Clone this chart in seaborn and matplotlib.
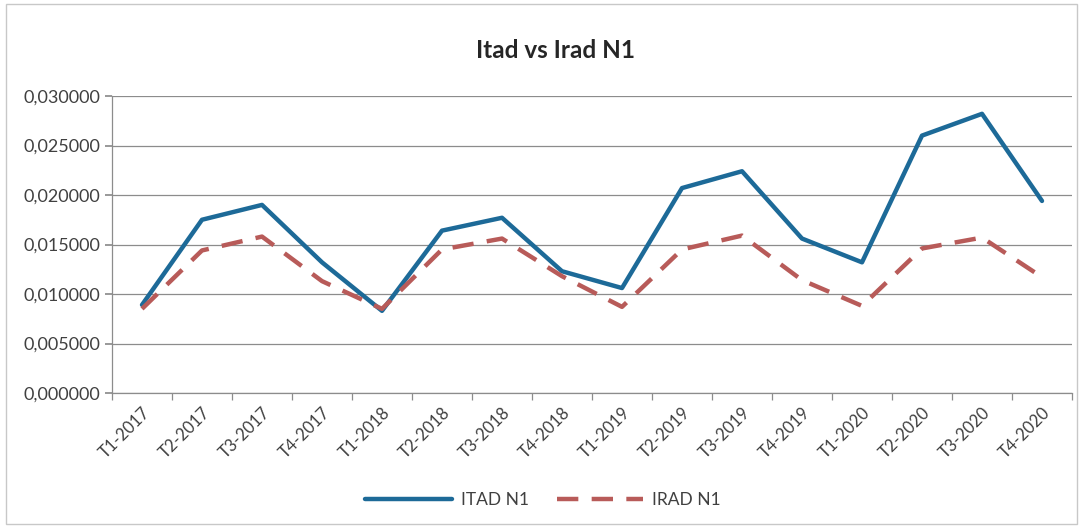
import matplotlib
matplotlib.use("Agg")
import matplotlib.pyplot as plt
import seaborn as sns
import pandas as pd
import numpy as np
from matplotlib.ticker import FuncFormatter, FixedLocator
from matplotlib.lines import Line2D

categories = ["T1-2017", "T2-2017", "T3-2017", "T4-2017",
              "T1-2018", "T2-2018", "T3-2018", "T4-2018",
              "T1-2019", "T2-2019", "T3-2019", "T4-2019",
              "T1-2020", "T2-2020", "T3-2020", "T4-2020"]
itad = [0.0089, 0.0175, 0.0190, 0.0132, 0.0083, 0.0164, 0.0177, 0.0123,
        0.0106, 0.0207, 0.0224, 0.0156, 0.0132, 0.0260, 0.0282, 0.0194]
irad = [0.0085, 0.0144, 0.0158, 0.0113, 0.0085, 0.0145, 0.0156, 0.0118,
        0.0087, 0.0145, 0.0159, 0.0114, 0.0088, 0.0146, 0.0157, 0.0117]
series_names = ["ITAD N1", "IRAD N1"]
title = "Itad vs Irad N1"

sns.set_theme(style="white")
plt.rcParams['font.family'] = ['Lato', 'DejaVu Sans']

df = pd.DataFrame({
    "x": list(range(len(categories))) * 2,
    "value": itad + irad,
    "series": [series_names[0]] * len(itad) + [series_names[1]] * len(irad),
})

fig = plt.figure(figsize=(10.83, 5.28), dpi=100)
ax = fig.add_axes([112 / 1083, 1 - 393 / 528, (1072 - 112) / 1083, (393 - 96) / 528])

palette = {series_names[0]: "#1D6A98", series_names[1]: "#B85B59"}
dash_pat = (4.8, 3.0)
dashes = {series_names[0]: "", series_names[1]: dash_pat}
sns.lineplot(data=df, x="x", y="value", hue="series", style="series",
             palette=palette, dashes=dashes, linewidth=3.2, ax=ax, legend=False)

ax.set_xlim(-0.5, len(categories) - 0.5)
ax.set_ylim(0, 0.03)
ax.set_yticks(np.arange(0, 0.0301, 0.005))
ax.yaxis.set_major_formatter(FuncFormatter(lambda v, p: f"{v:.6f}".replace(".", ",")))
ax.yaxis.grid(True, color="#8c8c8c", linewidth=0.9)
ax.set_axisbelow(True)

ax.set_xticks(range(len(categories)))
ax.set_xticklabels(categories, rotation=45, ha="right", rotation_mode="anchor")
ax.xaxis.set_minor_locator(FixedLocator(np.arange(-0.5, len(categories), 1.0)))
ax.tick_params(axis="x", which="major", length=0, pad=8, labelsize=12, colors="#404040")
ax.tick_params(axis="x", which="minor", length=5, color="#8c8c8c", width=0.9, bottom=True)
ax.tick_params(axis="y", which="major", length=5, left=True, color="#8c8c8c", labelsize=13, colors="#404040")
ax.set_xlabel("")
ax.set_ylabel("")

for s in ["top", "right"]:
    ax.spines[s].set_visible(False)
for s in ["left", "bottom"]:
    ax.spines[s].set_color("#8c8c8c")
    ax.spines[s].set_linewidth(0.9)

fig.text(555 / 1083, 1 - 50 / 528, title, ha="center", va="center",
         fontsize=17.5, fontweight="bold", color="#262626")

handles = [Line2D([0], [0], color=palette[series_names[0]], lw=3.2),
           Line2D([0], [0], color=palette[series_names[1]], lw=3.2, dashes=dash_pat)]
fig.legend(handles, series_names, loc="center", bbox_to_anchor=(543 / 1083, 1 - 500 / 528),
           ncol=2, frameon=False, fontsize=12.5, handlelength=5, handletextpad=0.5,
           columnspacing=1.6, labelcolor="#404040")

border = plt.Rectangle((0.006, 0.008), 0.988, 0.984, transform=fig.transFigure,
                       fill=False, edgecolor="#c8c8c8", linewidth=1)
fig.patches.append(border)

fig.savefig("out.png", dpi=100)
